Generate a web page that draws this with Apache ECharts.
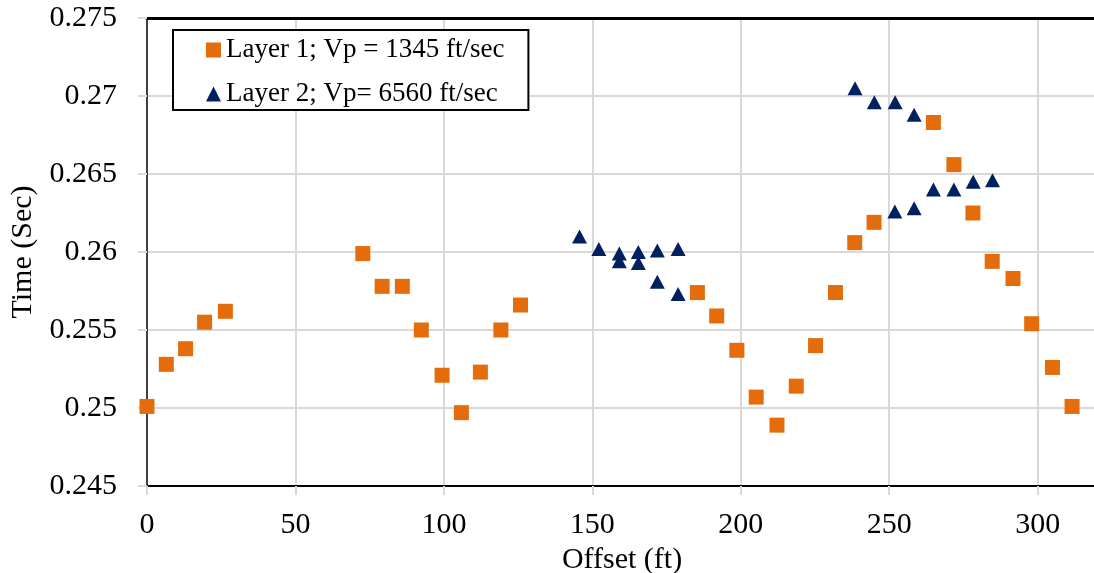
<!DOCTYPE html>
<html>
<head>
<meta charset="utf-8">
<script src="https://cdn.jsdelivr.net/npm/echarts@6/dist/echarts.min.js"></script>
<style>
  html, body { margin: 0; padding: 0; background: #fff; }
  #chart { width: 1094px; height: 573px; }
</style>
</head>
<body>
<div id="chart"></div>
<script>
// First-arrival picks: offset (ft) vs travel time (sec)
const layer1Name = 'Layer 1; Vp = 1345 ft/sec';
const layer1Offset = [0, 6.5, 13.0, 19.4, 26.4, 72.7, 79.2, 86.0, 92.4, 99.4, 105.9, 112.3, 119.2, 125.8,
  185.4, 191.9, 198.7, 205.2, 212.2, 218.7, 225.2, 231.9, 238.4, 244.9, 264.9, 271.8, 278.2, 284.7,
  291.7, 298.0, 305.0, 311.6];
const layer1Time = [0.2501, 0.2528, 0.2538, 0.2555, 0.2562, 0.2599, 0.2578, 0.2578, 0.2550, 0.2521, 0.2497, 0.2523, 0.2550, 0.2566,
  0.2574, 0.2559, 0.2537, 0.2507, 0.2489, 0.2514, 0.2540, 0.2574, 0.2606, 0.2619, 0.2683, 0.2656, 0.2625, 0.2594,
  0.2583, 0.2554, 0.2526, 0.2501];

const layer2Name = 'Layer 2; Vp= 6560 ft/sec';
const layer2Offset = [145.7, 152.2, 159.1, 159.1, 165.5, 165.5, 171.9, 171.9, 178.9, 178.9,
  238.5, 245.0, 252.0, 258.4, 251.9, 258.4, 264.9, 271.8, 278.3, 284.8];
const layer2Time = [0.2610, 0.2602, 0.2599, 0.2594, 0.2600, 0.2593, 0.2601, 0.2581, 0.2602, 0.2573,
  0.2705, 0.2696, 0.2696, 0.2688, 0.2626, 0.2628, 0.2640, 0.2640, 0.2645, 0.2646];

const xTitle = 'Offset (ft)';
const yTitle = 'Time (Sec)';
const xRange = [0, 320, 50];
const yRange = [0.245, 0.275, 0.005];

const FONT = "'Liberation Serif', 'Times New Roman', serif";
const ORANGE = '#E46C0A';
const NAVY = '#002060';
const zip = (xs, ys) => xs.map((x, i) => [x, ys[i]]);

const chart = echarts.init(document.getElementById('chart'), null, { renderer: 'canvas' });

chart.setOption({
  animation: false,
  backgroundColor: '#ffffff',
  textStyle: { fontFamily: FONT },
  grid: { left: 147, top: 18, width: 950, bottom: 87, containLabel: false, outerBoundsMode: 'none' },
  legend: {
    orient: 'vertical',
    left: 173,
    top: 30,
    padding: [5, 24, 1, 33],
    itemGap: 14,
    itemWidth: 15,
    itemHeight: 15,
    borderColor: '#000',
    borderWidth: 2,
    backgroundColor: '#fff',
    textStyle: { fontFamily: FONT, fontSize: 27, color: '#000', lineHeight: 30 },
    data: [
      { name: layer1Name, icon: 'rect', itemStyle: { color: ORANGE, opacity: 1 } },
      { name: layer2Name, icon: 'triangle', itemStyle: { color: NAVY, opacity: 1 } }
    ]
  },
  xAxis: [{
    type: 'value',
    min: xRange[0], max: xRange[1], interval: xRange[2],
    name: xTitle,
    nameLocation: 'middle',
    nameGap: 47,
    nameTextStyle: { fontFamily: FONT, fontSize: 30, color: '#000' },
    axisLine: { show: true, onZero: false, lineStyle: { color: '#000', width: 2 } },
    axisTick: { show: true, inside: false, length: 9, lineStyle: { color: '#d9d9d9', width: 2 } },
    axisLabel: { fontFamily: FONT, fontSize: 30, color: '#000', margin: 24, showMaxLabel: false },
    splitLine: { show: true, lineStyle: { color: '#d9d9d9', width: 2 } }
  }, {
    // heavy frame line along the top of the plot area
    type: 'value',
    position: 'top',
    min: xRange[0], max: xRange[1],
    axisLine: { show: true, lineStyle: { color: '#000', width: 3 } },
    axisTick: { show: false },
    axisLabel: { show: false },
    splitLine: { show: false }
  }],
  yAxis: {
    type: 'value',
    min: yRange[0], max: yRange[1], interval: yRange[2],
    name: yTitle,
    nameLocation: 'middle',
    nameGap: 108,
    nameTextStyle: { fontFamily: FONT, fontSize: 30, color: '#000' },
    axisLine: { show: true, onZero: false, lineStyle: { color: '#404040', width: 2 } },
    axisTick: { show: true, inside: false, length: 9, lineStyle: { color: '#d9d9d9', width: 2 } },
    axisLabel: {
      fontFamily: FONT, fontSize: 30, color: '#000', margin: 30,
      formatter: v => String(+v.toFixed(3))
    },
    splitLine: { show: true, lineStyle: { color: '#d9d9d9', width: 2 } }
  },
  series: [{
    name: layer1Name,
    type: 'scatter',
    symbol: 'rect',
    symbolSize: 15,
    itemStyle: { color: ORANGE, opacity: 1 },
    emphasis: { disabled: true },
    data: zip(layer1Offset, layer1Time),
    z: 3
  }, {
    name: layer2Name,
    type: 'scatter',
    symbol: 'triangle',
    symbolSize: [15, 14],
    itemStyle: { color: NAVY, opacity: 1 },
    emphasis: { disabled: true },
    data: zip(layer2Offset, layer2Time),
    z: 4
  }]
});
</script>
</body>
</html>
